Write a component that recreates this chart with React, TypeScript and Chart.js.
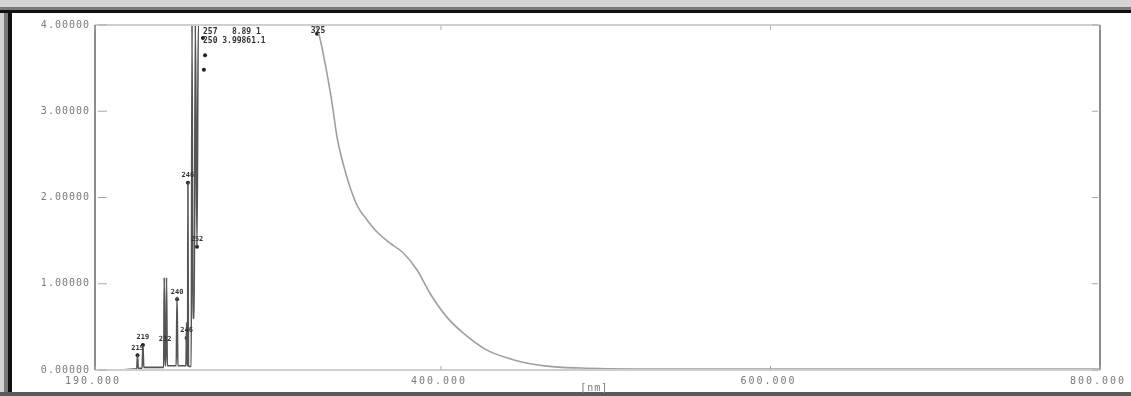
import React, { useEffect, useRef } from "react";
import { Chart, registerables } from "chart.js";

Chart.register(...registerables);

// Spectrum: wavelength (nm) vs absorbance
const wavelengths = [
  190, 205, 214, 215.3, 215.8, 216.3, 218.6, 219.1, 219.6, 231.0, 231.7, 232.0, 232.5, 233.0,
  233.4, 233.9, 239.3, 239.8, 240.3, 245.2, 245.6, 245.9, 246.2, 246.4, 246.7, 247.4, 248.4,
  248.9, 249.4, 250.2, 250.9, 251.9, 252.7, 280, 300, 322.0, 324.8, 329.6, 333.9, 336.9,
  340.5, 344.8, 349.6, 355.1, 361.2, 369.1, 377.0, 385.5, 393.3, 403.7, 413.4, 427.9, 443.7,
  464.4, 484.4, 527.0, 618.0, 700.0, 800.0,
];
const absorbance = [
  0.0, 0.0, 0.01, 0.01, 0.17, 0.02, 0.02, 0.29, 0.03, 0.03, 0.03, 1.07, 0.05, 0.05,
  1.07, 0.05, 0.05, 0.85, 0.05, 0.05, 0.55, 0.05, 0.05, 2.17, 0.05, 0.04, 0.04,
  4.0, 0.6, 0.6, 4.0, 1.43, 4.0, 4.0, 4.0, 4.0, 3.96, 3.56, 3.09, 2.7,
  2.4, 2.12, 1.89, 1.74, 1.6, 1.47, 1.36, 1.16, 0.89, 0.61, 0.43, 0.23, 0.12,
  0.045, 0.023, 0.012, 0.01, 0.01, 0.01,
];

// Peak-pick markers
const peakNm = [215.8, 219.1, 232.5, 239.8, 245.6, 246.4, 251.9, 255.5, 256.1, 256.8, 324.8];
const peakAbs = [0.17, 0.29, 0.27, 0.82, 0.37, 2.17, 1.43, 3.85, 3.48, 3.65, 3.9];
const peakLabels = ["215", "219", "232", "240", "246", "246", "252", "255", "256", "257", "325"];

// Tick labels
const yTickValues = [0, 1, 2, 3, 4];
const yTickLabels = ["0.00000", "1.00000", "2.00000", "3.00000", "4.00000"];
const xTickValues = [190, 400, 600, 800];
const xTickLabels = ["190.000", "400.000", "600.000", "800.000"];
const xTitle = "[nm]";
const peakTable = ["257   8.89 1", "250 3.99861.1"];

const framePlugin = {
  id: "frame",
  beforeDraw(chart: any) {
    const { ctx, width, height } = chart;
    ctx.save();
    ctx.fillStyle = "#ffffff";
    ctx.fillRect(0, 0, width, height);
    ctx.fillStyle = "#d4d4d4";
    ctx.fillRect(0, 0, width, 7);
    ctx.fillRect(0, 0, 4, height);
    ctx.fillStyle = "#7a7a7a";
    ctx.fillRect(0, 7, width, 3);
    ctx.fillRect(4, 7, 4, height);
    ctx.fillStyle = "#111111";
    ctx.fillRect(0, 10, width, 3);
    ctx.fillRect(8, 10, 4, height);
    ctx.fillStyle = "#5a5a5a";
    ctx.fillRect(0, 392, width, 4);
    ctx.restore();
  },
  afterDraw(chart: any) {
    const { ctx, chartArea: a, scales } = chart;
    const xs = scales.x;
    const ys = scales.y;
    ctx.save();
    // axis box
    ctx.strokeStyle = "#cfcfcf";
    ctx.lineWidth = 2;
    ctx.beginPath();
    ctx.moveTo(a.left, a.top);
    ctx.lineTo(a.right, a.top);
    ctx.moveTo(a.left, a.bottom);
    ctx.lineTo(a.right, a.bottom);
    ctx.stroke();
    ctx.strokeStyle = "#8c8c8c";
    ctx.lineWidth = 2;
    ctx.beginPath();
    ctx.moveTo(a.left, a.top);
    ctx.lineTo(a.left, a.bottom);
    ctx.moveTo(a.right, a.top);
    ctx.lineTo(a.right, a.bottom);
    ctx.stroke();
    // y ticks
    ctx.strokeStyle = "#aaaaaa";
    ctx.lineWidth = 1;
    ctx.font = "10px 'DejaVu Sans Mono'";
    ctx.fillStyle = "#7a7a7a";
    (ctx as any).letterSpacing = "1px";
    ctx.textAlign = "right";
    ctx.textBaseline = "middle";
    yTickValues.forEach((v, i) => {
      const y = ys.getPixelForValue(v);
      ctx.beginPath();
      ctx.moveTo(a.left + 3, y);
      ctx.lineTo(a.left + 12, y);
      ctx.moveTo(a.right - 8, y);
      ctx.lineTo(a.right - 2, y);
      ctx.stroke();
      ctx.fillText(yTickLabels[i], a.left - 5, y);
    });
    // x ticks
    (ctx as any).letterSpacing = "2px";
    ctx.textAlign = "center";
    ctx.textBaseline = "middle";
    xTickValues.forEach((v, i) => {
      const x = xs.getPixelForValue(v);
      ctx.beginPath();
      ctx.moveTo(x, a.top + 1);
      ctx.lineTo(x, a.top + 5);
      ctx.moveTo(x, a.bottom - 4);
      ctx.lineTo(x, a.bottom);
      ctx.stroke();
      ctx.fillText(xTickLabels[i], x - 2, a.bottom + 11);
    });
    (ctx as any).letterSpacing = "1px";
    ctx.fillText(xTitle, xs.getPixelForValue(493), a.bottom + 18);
    // peak labels
    (ctx as any).letterSpacing = "0px";
    ctx.font = "bold 7px 'DejaVu Sans Mono'";
    ctx.fillStyle = "#333333";
    ctx.textAlign = "center";
    ctx.textBaseline = "bottom";
    peakNm.forEach((nm, i) => {
      const x = xs.getPixelForValue(nm);
      const y = ys.getPixelForValue(peakAbs[i]);
      if (peakAbs[i] > 3.3) return;
      ctx.fillText(peakLabels[i], x, y - 4);
    });
    ctx.font = "bold 8px 'DejaVu Sans Mono'";
    ctx.textAlign = "left";
    ctx.textBaseline = "top";
    ctx.fillText(peakTable[0], a.left + 108, a.top + 3);
    ctx.fillText(peakTable[1], a.left + 108, a.top + 12);
    ctx.fillText(peakLabels[10], xs.getPixelForValue(321), a.top + 2);
    ctx.restore();
  },
};

export default function App() {
  const ref = useRef<HTMLCanvasElement | null>(null);
  useEffect(() => {
    if (!ref.current) return;
    const chart = new Chart(ref.current, {
      type: "line",
      data: {
        datasets: [
          {
            data: wavelengths.map((x, i) => ({ x, y: absorbance[i] })),
            borderColor: "#9a9a9a",
            borderWidth: 1.6,
            pointRadius: 0,
            cubicInterpolationMode: "monotone",
            segment: {
              borderColor: (c: any) => (c.p0.parsed.x < 300 ? "#555555" : "#9f9f9f"),
            },
          },
          {
            type: "scatter",
            data: peakNm.map((x, i) => ({ x, y: peakAbs[i] })),
            pointRadius: 2,
            pointBackgroundColor: "#222222",
            pointBorderWidth: 0,
          } as any,
        ],
      },
      options: {
        animation: false,
        responsive: false,
        layout: { padding: { left: 95, top: 25, right: 31, bottom: 26 } },
        plugins: { legend: { display: false }, tooltip: { enabled: false } },
        scales: {
          x: {
            type: "linear",
            min: 190,
            max: 800,
            display: false,
          },
          y: {
            min: 0,
            max: 4,
            display: false,
          },
        },
      },
      plugins: [framePlugin],
    });
    return () => chart.destroy();
  }, []);
  return (
    <div style={{ position: "fixed", left: 0, top: 0, width: 1131, height: 396 }}>
      <canvas ref={ref} width={1131} height={396} style={{ display: "block" }} />
    </div>
  );
}
